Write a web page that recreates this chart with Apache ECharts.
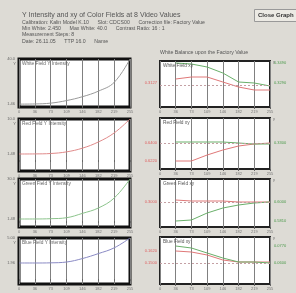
<!DOCTYPE html>
<html><head><meta charset="utf-8">
<script src="https://cdn.jsdelivr.net/npm/echarts@6/dist/echarts.min.js"></script>
<style>html,body{margin:0;padding:0;background:#dddbd5}#c{width:296px;height:293px}</style>
</head><body><div id="c"></div><script>
const videoLevels = ['0','36','73','109','146','182','219','255'];
const fieldNames = ['White','Red','Green','Blue'];
const whiteLum = [1.46,1.6,2.3,4.5,7.8,12.5,20.0,40.0];
const redLum = [1.48,1.5,1.6,2.0,2.9,4.4,6.6,10.0];
const greenLum = [1.48,1.5,1.7,2.4,5.5,9.3,16.4,30.0];
const blueLum = [1.96,1.96,1.98,2.08,2.5,3.1,3.8,5.0];
const whiteCx = [null,0.3167,0.3187,0.3187,0.3137,0.3087,0.3057,0.3057];
const whiteCy = [null,0.349,0.348,0.345,0.339,0.330,0.329,0.326];
const redCx = [null,0.622,0.622,0.628,0.633,0.637,0.639,0.640];
const redCy = [null,0.331,0.331,0.331,0.331,0.330,0.329,0.329];
const greenCx = [null,0.302,0.301,0.301,0.301,0.300,0.300,0.300];
const greenCy = [null,0.581,0.582,0.589,0.594,0.597,0.599,0.600];
const blueCx = [null,0.162,0.161,0.158,0.153,0.151,0.151,0.151];
const blueCy = [null,0.077,0.075,0.070,0.065,0.061,0.061,0.060];
const targetX = [0.3127,0.6400,0.3000,0.1500];
const targetY = [0.3290,0.3300,0.6000,0.0600];
const headerLines = [
  'Calibration: Kalin Model K.10      Slot: CDCS00      Correction file: Factory Value',
  'Min White: 2.450      Max White: 40.0      Contrast Ratio: 16 : 1',
  'Measurement Steps: 8',
  'Date: 26.11.05      TTP 16.0      Name'
];

const lumSeries = [whiteLum, redLum, greenLum, blueLum];
const cxSeries = [whiteCx, redCx, greenCx, blueCx];
const cySeries = [whiteCy, redCy, greenCy, blueCy];
const lumColors = ['#9a9a9a','#e08a8a','#8cc48c','#8a8ac4'];
const lumRange = [[-1,40],[-2.66,10],[-4.22,30],[-0.594,5]];
const cxRange = [[0.2887,0.3347],[0.614,0.665],[0.275,0.323],[0.129,0.176]];
const cyRange = [[0.305,0.351],[0.304,0.355],[0.575,0.623],[0.039,0.086]];
const leftBoxes = [[59,48],[119,52],[179,48],[238,46]];
const rightBoxes = [[61,46],[118,51],[179,48],[237,47]];
const cxLabels = [[0.3127],[0.6400,0.6220],[0.3000],[0.1500,0.1620]];
const cyLabels = [[0.3290,0.3490],[0.3300],[0.6000,0.5810],[0.0600,0.0770]];

const FONT = 'Liberation Sans';
const grid = [], xAxis = [], yAxis = [], series = [], graphic = [];
function addX(gi){
  xAxis.push({type:'category',gridIndex:gi,data:videoLevels,boundaryGap:false,
    axisLine:{show:false},axisTick:{show:true,length:2,lineStyle:{color:'#666'}},
    axisLabel:{fontSize:4,color:'#777',margin:3,fontFamily:FONT,interval:0},
    splitLine:{show:true,lineStyle:{color:'#808080',width:1}}});
}
for(let i=0;i<4;i++){
  const gi = grid.length;
  grid.push({left:19,width:111,top:leftBoxes[i][0],height:leftBoxes[i][1],show:true,
    backgroundColor:'#ffffff',borderColor:'#111',borderWidth:3});
  addX(gi);
  const yi = yAxis.length;
  yAxis.push({type:'value',gridIndex:gi,min:lumRange[i][0],max:lumRange[i][1],
    axisLine:{show:false},axisTick:{show:false},splitLine:{show:false},
    axisLabel:{customValues:[lumRange[i][1],lumSeries[i][0]],formatter:v=>Number(v).toPrecision(3),
      fontSize:4,color:'#666',margin:4,fontFamily:FONT}});
  series.push({type:'line',xAxisIndex:xAxis.length-1,yAxisIndex:yi,data:lumSeries[i],smooth:0.4,
    showSymbol:false,lineStyle:{width:1,color:lumColors[i]},z:3});
  graphic.push({type:'text',left:22,top:leftBoxes[i][0]+2,style:{text:fieldNames[i]+' Field Y Intensity',fontSize:4.8,fill:'#666',fontFamily:FONT},z:100});
  graphic.push({type:'text',right:296-16,top:leftBoxes[i][0]+3,style:{text:'Y',fontSize:4,fill:'#666',fontFamily:FONT},z:100});

  const gj = grid.length;
  grid.push({left:160,width:110,top:rightBoxes[i][0],height:rightBoxes[i][1],show:true,
    backgroundColor:'#ffffff',borderColor:'#222',borderWidth:2});
  addX(gj);
  const xi = yAxis.length;
  yAxis.push({type:'value',gridIndex:gj,position:'left',min:cxRange[i][0],max:cxRange[i][1],
    axisLine:{show:false},axisTick:{show:false},splitLine:{show:false},
    axisLabel:{customValues:cxLabels[i],formatter:v=>Number(v).toFixed(4),fontSize:4,color:'#e06060',margin:3,fontFamily:FONT}});
  const yj = yAxis.length;
  yAxis.push({type:'value',gridIndex:gj,position:'right',min:cyRange[i][0],max:cyRange[i][1],
    axisLine:{show:false},axisTick:{show:false},splitLine:{show:false},
    axisLabel:{customValues:cyLabels[i],formatter:v=>Number(v).toFixed(4),fontSize:4,color:'#4a9a4a',margin:4,fontFamily:FONT}});
  series.push({type:'line',xAxisIndex:xAxis.length-1,yAxisIndex:xi,data:cxSeries[i],
    showSymbol:false,lineStyle:{width:1,color:'#e07878'},z:3,
    markLine:{silent:true,symbol:'none',label:{show:false},
      lineStyle:{type:[2,2],color:'#c4a0a4',width:1},data:[{yAxis:targetX[i]}]}});
  series.push({type:'line',xAxisIndex:xAxis.length-1,yAxisIndex:yj,data:cySeries[i],
    showSymbol:false,lineStyle:{width:1,color:'#6ab06a'},z:3});
  graphic.push({type:'text',left:163,top:rightBoxes[i][0]+2,style:{text:fieldNames[i]+' Field xy',fontSize:4.8,fill:'#555',fontFamily:FONT},z:100});
  graphic.push({type:'text',left:273,top:rightBoxes[i][0]-1,style:{text:'y',fontSize:4,fill:'#777',fontFamily:FONT},z:100});
}
graphic.push({type:'text',left:22,top:12,style:{text:'Y Intensity and xy of Color Fields at 8 Video Values',fontSize:7,fill:'#555',fontFamily:FONT}});
const lineTops = [20.5,26.5,32.5,39.5];
headerLines.forEach((t,k)=>graphic.push({type:'text',left:22,top:lineTops[k],style:{text:t,fontSize:5.2,fill:'#555',fontFamily:FONT}}));
graphic.push({type:'rect',left:254,top:9,shape:{width:46,height:12},style:{fill:'#eceae4',stroke:'#999',lineWidth:1}});
graphic.push({type:'text',left:258,top:12,style:{text:'Close Graph',fontSize:6,fontWeight:'bold',fill:'#333',fontFamily:FONT}});
graphic.push({type:'text',left:160,top:50,style:{text:'White Balance upon the Factory Value',fontSize:5.2,fill:'#555',fontFamily:FONT}});

const chart = echarts.init(document.getElementById('c'),null,{renderer:'canvas'});
chart.setOption({backgroundColor:'#dddbd5',animation:false,grid,xAxis,yAxis,series,graphic});
</script></body></html>
